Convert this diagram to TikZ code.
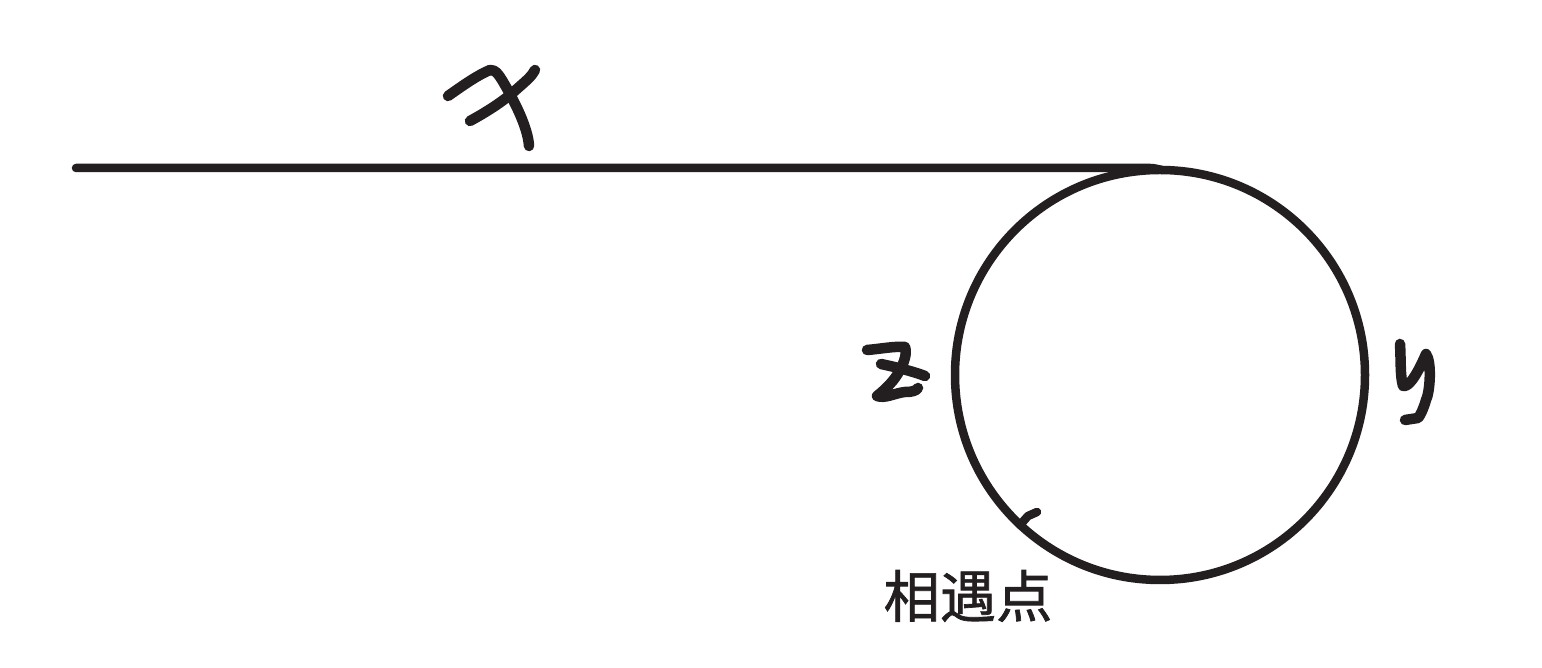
\documentclass[tikz,border=0pt]{standalone}
\usepackage{fontspec}
\newfontfamily\cjk[AutoFakeBold=1.2]{Noto Sans CJK SC}
\usepackage{tikz}
\usetikzlibrary{positioning}
\definecolor{ink}{RGB}{35,31,32}

\begin{document}
\begin{tikzpicture}[
    x=0.01cm, y=-0.01cm,
    stroke/.style={draw=ink, line width=0.085cm, line cap=round, line join=round},
    hand/.style={draw=ink, line width=0.105cm, line cap=round, line join=round},
    label/.style={text=ink, font=\cjk\bfseries\fontsize{16pt}{17pt}\selectfont, inner sep=0pt}
]
\useasboundingbox (0,0) rectangle (1542,668);

% Straight track and the loop
\coordinate (start) at (76,168);
\coordinate (join) at (1150,168);
\coordinate (centre) at (1160,375);
\draw[stroke] (start) -- (join) to[out=0, in=170] (1162,170);
\draw[stroke] (centre) circle (205);

% Meeting mark
\coordinate (meetpt) at (1020,525);
\draw[stroke] (meetpt) -- (1028,516) -- (1037,512);
\node[label] (meet) at (968,596) {相遇点};

% Handwritten x
\draw[hand] (448,96) .. controls (465,84) and (478,75) .. (490,70)
    .. controls (496,70) and (498,74) .. (502,80)
    .. controls (515,102) and (528,128) .. (529,146);
\draw[hand] (470,121) .. controls (490,110) and (505,100) .. (518,88)
    .. controls (526,81) and (532,76) .. (535,70);

% Handwritten z
\draw[hand] (867,350) .. controls (880,349) and (895,346) .. (905,347)
    .. controls (908,355) and (902,368) .. (895,378)
    .. controls (889,386) and (882,392) .. (877,396)
    .. controls (885,399) and (895,393) .. (905,392)
    .. controls (912,392) and (916,391) .. (918,388);
\draw[hand] (881,364) .. controls (895,367) and (912,371) .. (925,376);

% Handwritten y
\draw[hand] (1400,344) .. controls (1401,360) and (1400,376) .. (1403,386)
    .. controls (1410,388) and (1420,368) .. (1426,354)
    .. controls (1432,362) and (1430,392) .. (1426,400)
    .. controls (1423,410) and (1420,416) .. (1418,418)
    -- (1405,420);
\end{tikzpicture}
\end{document}
